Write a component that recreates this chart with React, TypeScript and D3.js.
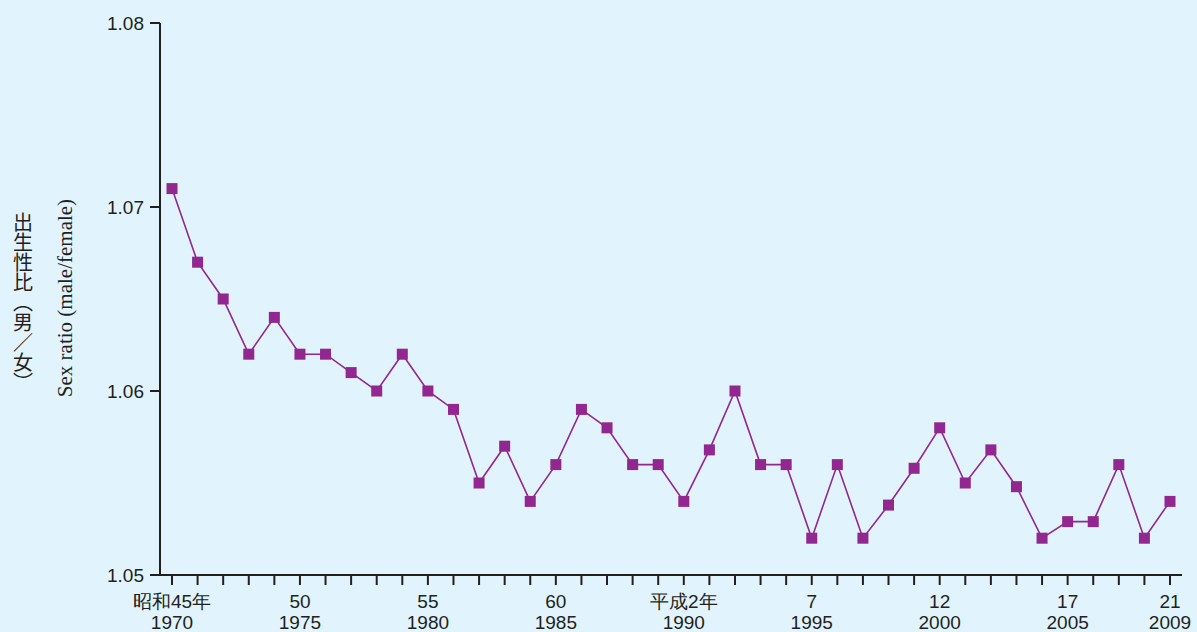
import React from "react";
import * as d3 from "d3";

const years: number[] = [
  1970, 1971, 1972, 1973, 1974, 1975, 1976, 1977, 1978, 1979,
  1980, 1981, 1982, 1983, 1984, 1985, 1986, 1987, 1988, 1989,
  1990, 1991, 1992, 1993, 1994, 1995, 1996, 1997, 1998, 1999,
  2000, 2001, 2002, 2003, 2004, 2005, 2006, 2007, 2008, 2009,
];
const ratios: number[] = [
  1.071, 1.067, 1.065, 1.062, 1.064, 1.062, 1.062, 1.061, 1.06, 1.062,
  1.06, 1.059, 1.055, 1.057, 1.054, 1.056, 1.059, 1.058, 1.056, 1.056,
  1.054, 1.0568, 1.06, 1.056, 1.056, 1.052, 1.056, 1.052, 1.0538, 1.0558,
  1.058, 1.055, 1.0568, 1.0548, 1.052, 1.0529, 1.0529, 1.056, 1.052, 1.054,
];
const yTicks: number[] = [1.05, 1.06, 1.07, 1.08];
const xLabelYears: number[] = [1970, 1975, 1980, 1985, 1990, 1995, 2000, 2005, 2009];
const xLabelEra: string[] = ["昭和45年", "50", "55", "60", "平成2年", "7", "12", "17", "21"];
const titleJa = "出生性比（男／女）";

const W = 1197;
const H = 632;
const axisX = 160;
const axisRight = 1182;

export default function App() {
  const x = d3.scaleLinear().domain([1970, 2009]).range([172, 1170]);
  const y = d3.scaleLinear().domain([1.05, 1.08]).range([575, 23]);
  const line = d3
    .line<number>()
    .x((_, i) => x(years[i]))
    .y((d) => y(d));
  const sans = "'Liberation Sans', Arial, Helvetica, sans-serif";
  const ms = 11;
  return (
    <div style={{ position: "fixed", left: 0, top: 0 }}>
      <svg width={W} height={H} style={{ display: "block" }}>
        <rect x={0} y={0} width={W} height={H} fill="#E1F3FC" />
        {/* y axis */}
        <line x1={axisX} x2={axisX} y1={y(1.08)} y2={y(1.05)} stroke="#231F20" strokeWidth={2} />
        {yTicks.map((t) => (
          <g key={t}>
            <line x1={axisX - 10} x2={axisX} y1={y(t)} y2={y(t)} stroke="#231F20" strokeWidth={2} />
            <text x={axisX - 16} y={y(t)} dy="0.36em" textAnchor="end" fontFamily={sans} fontSize={19} fill="#231F20">
              {t.toFixed(2)}
            </text>
          </g>
        ))}
        {/* x axis */}
        <line x1={axisX - 1} x2={axisRight} y1={y(1.05)} y2={y(1.05)} stroke="#231F20" strokeWidth={2} />
        {years.map((yr) => (
          <line key={yr} x1={x(yr)} x2={x(yr)} y1={y(1.05)} y2={y(1.05) + 10} stroke="#231F20" strokeWidth={2} />
        ))}
        {xLabelYears.map((yr, i) => (
          <g key={yr}>
            <text x={x(yr)} y={608} textAnchor="middle" fontFamily={sans} fontSize={19} fill="#231F20">
              {xLabelEra[i]}
            </text>
            <text x={x(yr)} y={629} textAnchor="middle" fontFamily={sans} fontSize={19} fill="#231F20">
              {yr}
            </text>
          </g>
        ))}
        {/* axis titles */}
        <text
          x={23}
          y={212}
          fontFamily="'Noto Sans CJK JP', sans-serif"
          fontSize={20}
          fill="#231F20"
          style={{ writingMode: "vertical-rl", textOrientation: "mixed" } as any}
        >
          {titleJa}
        </text>
        <text
          transform={`translate(72, 298) rotate(-90)`}
          textAnchor="middle"
          fontFamily="'Liberation Serif', 'Times New Roman', serif"
          fontSize={21}
          fill="#231F20"
        >
          Sex ratio (male/female)
        </text>
        {/* data */}
        <path d={line(ratios) || ""} fill="none" stroke="#92278F" strokeWidth={1.6} />
        {ratios.map((v, i) => (
          <rect key={i} x={x(years[i]) - ms / 2} y={y(v) - ms / 2} width={ms} height={ms} fill="#92278F" />
        ))}
      </svg>
    </div>
  );
}
